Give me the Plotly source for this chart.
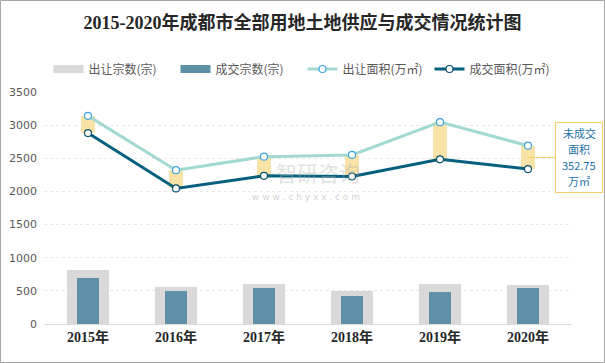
import plotly.graph_objects as go

years = ["2015年", "2016年", "2017年", "2018年", "2019年", "2020年"]
supply_cnt = [815, 554, 600, 492, 600, 585]
deal_cnt = [692, 492, 538, 430, 490, 540]
supply_area = [3140, 2320, 2525, 2550, 3045, 2690]
deal_area = [2880, 2045, 2235, 2225, 2485, 2337]
gap = [s - d for s, d in zip(supply_area, deal_area)]
y_ticks = [0, 500, 1000, 1500, 2000, 2500, 3000, 3500]
callout_lines = ["未成交", "面积", "352.75", "万㎡"]

W, H = 605, 363
L, R, T, B = 44, 33, 92, 39
pw, ph = W - L - R, H - T - B

GRAY, STEEL = "#D9D9D9", "#5E91A8"

fig = go.Figure()
fig.add_trace(go.Bar(x=years, y=supply_cnt, name="出让宗数(宗)", marker_color=GRAY,
                     width=0.47, marker_line_width=0, showlegend=False))
fig.add_trace(go.Bar(x=years, y=deal_cnt, name="成交宗数(宗)", marker_color=STEEL,
                     width=0.25, marker_line_width=0, showlegend=False))
fig.add_trace(go.Bar(x=years, y=gap, base=deal_area, showlegend=False, marker_color="#FAE3A7",
                     width=0.15, marker_line_width=0))
# legend stand-ins for the bar series (wide rectangles like the original)
fig.add_trace(go.Scatter(x=[None], y=[None], name="出让宗数(宗)", mode="lines",
                         line=dict(color=GRAY, width=8)))
fig.add_trace(go.Scatter(x=[None], y=[None], name="成交宗数(宗)", mode="lines",
                         line=dict(color=STEEL, width=8)))
fig.add_trace(go.Scatter(x=years, y=supply_area, name="出让面积(万㎡)", mode="lines+markers",
                         line=dict(color="#A3D9D3", width=3),
                         marker=dict(symbol="circle", size=7, color="white",
                                     line=dict(color="#3DA5DC", width=1.2))))
fig.add_trace(go.Scatter(x=years, y=deal_area, name="成交面积(万㎡)", mode="lines+markers",
                         line=dict(color="#05607F", width=3),
                         marker=dict(symbol="circle", size=7, color="white",
                                     line=dict(color="#0B4F6C", width=1.2))))

# watermark
fig.add_annotation(x=(318 - L) / pw, y=(324 - 172) / ph, xref="paper", yref="paper",
                   text="智研咨询", showarrow=False,
                   font=dict(size=21, color="rgba(175,175,175,0.4)", family="Noto Sans CJK SC"))
fig.add_annotation(x=(306 - L) / pw, y=(324 - 197) / ph, xref="paper", yref="paper",
                   text="w w w . c h y x x . c o m", showarrow=False,
                   font=dict(size=9, color="rgba(170,170,170,0.55)", family="DejaVu Sans"))

# callout box with pointer
mid = (supply_area[-1] + deal_area[-1]) / 2
fig.add_annotation(x=years[-1], y=mid, xref="x", yref="y",
                   text="", showarrow=True, arrowhead=0,
                   arrowcolor="#F6CD6E", arrowwidth=1, ax=51, ay=0, standoff=0,
                   bordercolor="#F6CD6E", borderwidth=1, bgcolor="white", borderpad=0,
                   width=46, height=69)
for i, line in enumerate(callout_lines):
    fig.add_annotation(x=years[-1], y=mid, xref="x", yref="y", text=line, showarrow=False,
                       xshift=51, yshift=24 - 16 * i,
                       font=dict(size=11, color="#2372A8", family="Noto Sans CJK SC"))

# outer border
fig.add_shape(type="rect", xref="paper", yref="paper",
              x0=-(L - 0.5) / pw, x1=(W - L - 0.5) / pw,
              y0=(324 - H + 0.5) / ph, y1=(324 - 0.5) / ph,
              line=dict(color="#A6A6A6", width=1), layer="above")

fig.update_layout(
    width=W, height=H, margin=dict(l=L, r=R, t=T, b=B, autoexpand=False),
    paper_bgcolor="white", plot_bgcolor="white",
    barmode="overlay", bargap=0,
    title=dict(text="<b>2015-2020年成都市全部用地土地供应与成交情况统计图</b>", x=0.5, xref="container",
               y=1 - 23 / H, yanchor="middle",
               font=dict(size=18, color="#262626", family="Liberation Serif, Noto Sans CJK SC")),
    legend=dict(orientation="h", x=0.5, xref="container", xanchor="center",
                y=1 - 69 / H, yref="container", yanchor="middle",
                font=dict(size=12, color="#595959", family="Noto Sans CJK SC"),
                itemwidth=30, entrywidth=82, traceorder="normal", bgcolor="rgba(0,0,0,0)"),
    xaxis=dict(range=[-0.5, 5.5], autorange=False,
               tickfont=dict(size=14, color="#262626", family="Liberation Serif, Noto Sans CJK SC"),
               showline=True, linecolor="#D9D9D9", linewidth=1, ticks="", showgrid=False,
               tickprefix="<b>", ticksuffix="</b>", automargin=False),
    yaxis=dict(range=[0, 3500], autorange=False, tickvals=y_ticks,
               tickfont=dict(size=11, color="#595959", family="DejaVu Sans"),
               showgrid=True, gridcolor="#E9E9E9", griddash="dot", gridwidth=1,
               zeroline=False, showline=False, ticks="", ticklabelstandoff=6, automargin=False),
    showlegend=True,
)

fig.write_html("out.html", config={"displayModeBar": False},
               post_script="document.body.style.margin='0';document.body.style.overflow='hidden';")
